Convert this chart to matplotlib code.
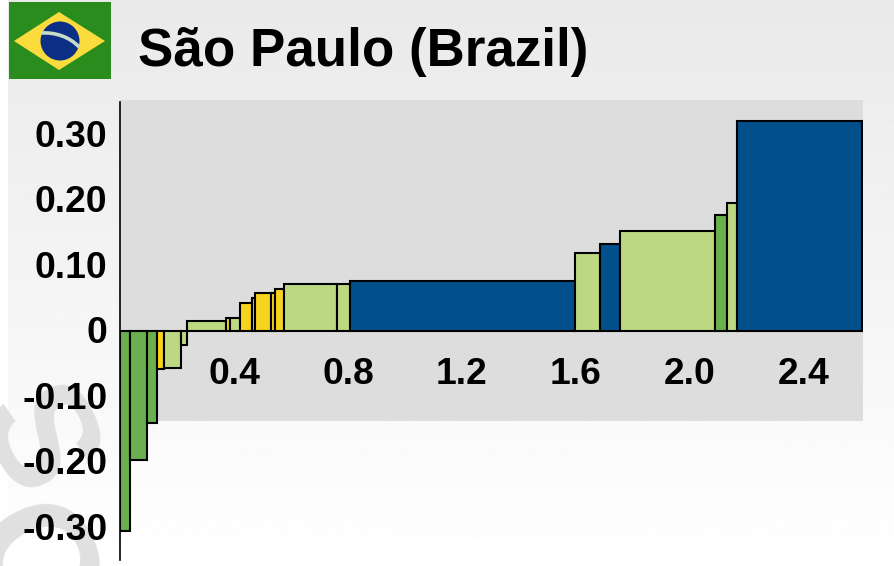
import numpy as np
import matplotlib
matplotlib.use("Agg")
import matplotlib.pyplot as plt
from matplotlib.patches import Polygon, Circle, Rectangle, PathPatch
from matplotlib.path import Path
from matplotlib.transforms import ScaledTranslation

plt.rcParams['font.family'] = ['Liberation Sans', 'DejaVu Sans']

TITLE = "São Paulo (Brazil)"
GREEN, LIGHT, YELLOW, BLUE = "#6ab04e", "#bcd982", "#f5d31f", "#01508c"

widths = [0.035, 0.060, 0.035, 0.025, 0.060, 0.021, 0.137, 0.014, 0.035, 0.042, 0.011,
          0.056, 0.014, 0.032, 0.183, 0.046, 0.789, 0.088, 0.070, 0.333, 0.045, 0.035, 0.436]
values = [-0.305, -0.197, -0.140, -0.058, -0.056, -0.021, 0.015, 0.020, 0.020, 0.043, 0.050,
          0.058, 0.058, 0.064, 0.072, 0.072, 0.077, 0.119, 0.133, 0.153, 0.177, 0.195, 0.320]
colors = [GREEN, GREEN, GREEN, YELLOW, LIGHT, LIGHT, LIGHT, YELLOW, LIGHT, YELLOW, LIGHT,
          YELLOW, YELLOW, YELLOW, LIGHT, LIGHT, BLUE, LIGHT, BLUE, LIGHT, GREEN, LIGHT, BLUE]
x_ticks = [0.4, 0.8, 1.2, 1.6, 2.0, 2.4]
x_labels = ["0.4", "0.8", "1.2", "1.6", "2.0", "2.4"]
y_ticks = [0.30, 0.20, 0.10, 0, -0.10, -0.20, -0.30]
y_labels = ["0.30", "0.20", "0.10", "0", "-0.10", "-0.20", "-0.30"]

W, H = 894, 566
fig = plt.figure(figsize=(W / 100, H / 100), dpi=100, facecolor="white")

# Background layer in pixel coordinates
bg = fig.add_axes([0, 0, 1, 1], zorder=0)
bg.set_xlim(0, W)
bg.set_ylim(H, 0)
bg.axis("off")
grad = np.linspace(0.915, 1.0, 256).reshape(-1, 1)
bg.imshow(grad, cmap="gray", vmin=0, vmax=1, extent=(8, W, H, 0), aspect="auto", zorder=0)
bg.set_xlim(0, W)
bg.set_ylim(H, 0)

# Watermark letters (cropped by the picture's edge, as in the reference)
bg.text(30, 443, "S", fontsize=108, fontweight="bold", color="#e0e0e0", rotation=-65,
        ha="center", va="center", zorder=1, clip_on=True)
bg.text(24, 572, "O", fontsize=116, fontweight="bold", color="#e0e0e0", rotation=-65,
        ha="center", va="center", zorder=1, clip_on=True)

# Flag
bg.add_patch(Rectangle((9, 2), 102, 77, fc="#2a8c1c", ec="none", zorder=2))
bg.add_patch(Polygon([(14, 41), (59, 12), (105, 41), (59, 70)], fc="#fbdc3c", ec="none", zorder=3))
bg.add_patch(Circle((60, 41), 19.5, fc="#0c2f86", ec="none", zorder=4))
band = Path([(41, 33), (55, 32), (70, 37), (79, 47)], [Path.MOVETO, Path.CURVE4, Path.CURVE4, Path.CURVE4])
bg.add_patch(PathPatch(band, fc="none", ec="#c6dcc8", lw=2.6, zorder=5))

# Panel
bg.add_patch(Rectangle((120, 100), 743, 321, fc="#dddddd", ec="none", zorder=6))

# Title
fig.text(138 / W, 1 - 66 / H, TITLE, fontsize=38.2, fontweight="bold", color="black", ha="left", va="baseline")

# Chart
left, right, top, bottom = 120, 863, 102, 560
ax = fig.add_axes([left / W, 1 - bottom / H, (right - left) / W, (bottom - top) / H], zorder=2)
ax.patch.set_alpha(0)
px_x, px_y = 285.0, 655.0
ax.set_xlim(0, (right - left) / px_x)
ax.set_ylim((331 - bottom) / px_y, (331 - top) / px_y)

lefts = np.concatenate([[0], np.cumsum(widths)[:-1]])
ax.bar(lefts, values, width=widths, align="edge", color=colors, edgecolor="black", linewidth=1.5)

for s in ["top", "right"]:
    ax.spines[s].set_visible(False)
ax.spines["bottom"].set_position(("data", 0))
ax.spines["bottom"].set_visible(False)
ax.spines["left"].set_linewidth(1.2)
ax.set_xticks(x_ticks, x_labels)
ax.set_yticks(y_ticks, y_labels)
ax.tick_params(axis="x", length=0, pad=18.5, labelsize=26.8)
ax.tick_params(axis="y", length=0, pad=9.2, labelsize=26.8)
for t in ax.get_xticklabels() + ax.get_yticklabels():
    t.set_fontweight("bold")
shift_up = ScaledTranslation(0, 1.2 / 100, fig.dpi_scale_trans)
for t in ax.get_yticklabels():
    t.set_transform(t.get_transform() + shift_up)

fig.savefig("out.png", dpi=100)
